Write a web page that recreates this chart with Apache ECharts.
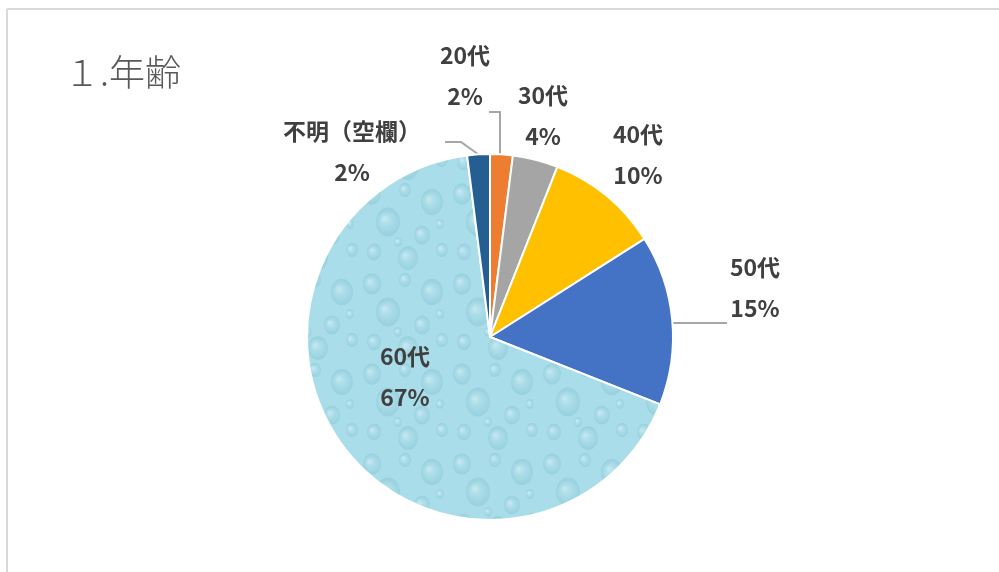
<!DOCTYPE html>
<html>
<head>
<meta charset="utf-8">
<script src="https://cdn.jsdelivr.net/npm/echarts@6/dist/echarts.min.js"></script>
<style>
html, body { margin: 0; padding: 0; background: #fff; }
#chart { width: 999px; height: 572px; }
</style>
</head>
<body>
<div id="chart"></div>
<script>
// 年齢区分と割合(%)
var categories = ['20代', '30代', '40代', '50代', '60代', '不明（空欄）'];
var values = [2, 4, 10, 15, 67, 2];
var colors = ['#ED7D31', '#A5A5A5', '#FFC000', '#4472C4', '#A9DDE9', '#255E91'];

// ラベル位置（中心）と引出線
var labelCenters = [[465, 76], [543, 116], [638, 155], [755, 288], [405, 377], [352, 152]];
var labelLines = [
	[[500, 155], [500, 112], [489, 112]],
	null,
	null,
	[[673, 323], [727, 323]],
	null,
	[[482, 157], [461, 142], [445, 142]]
];

// 水滴風テクスチャ
function makeDrops()
{
	var c = document.createElement('canvas');
	c.width = 90;
	c.height = 90;
	var g = c.getContext('2d');
	g.fillStyle = '#A9DDE9';
	g.fillRect(0, 0, 90, 90);
	var drops = [[12, 14, 9], [45, 10, 6], [72, 22, 11], [28, 42, 12], [62, 55, 8], [14, 72, 7], [48, 78, 10], [82, 70, 6], [38, 62, 4], [80, 44, 4]];
	drops.forEach(function(d)
	{
		var grd = g.createRadialGradient(d[0] - d[2] * 0.3, d[1] - d[2] * 0.3, 1, d[0], d[1], d[2]);
		grd.addColorStop(0, 'rgba(255,255,255,0.3)');
		grd.addColorStop(0.6, 'rgba(150,205,218,0.2)');
		grd.addColorStop(1, 'rgba(120,185,202,0.3)');
		g.fillStyle = grd;
		g.beginPath();
		g.ellipse(d[0], d[1], d[2], d[2] * 1.2, 0, 0, Math.PI * 2);
		g.fill();
	});
	return c;
}

var dataItems = categories.map(function(name, i)
{
	var item = { name: name, value: values[i], itemStyle: { color: colors[i] } };
	if (i === 4)
		item.itemStyle.color = { image: makeDrops(), repeat: 'repeat' };
	return item;
});

var chart = echarts.init(document.getElementById('chart'));

var options =
{
	animation: false,
	graphic:
	[
		{ type: 'line', shape: { x1: 7, y1: 9, x2: 999, y2: 9 }, style: { stroke: '#D9D9D9', lineWidth: 2 } },
		{ type: 'line', shape: { x1: 7, y1: 9, x2: 7, y2: 572 }, style: { stroke: '#D9D9D9', lineWidth: 2 } },
		{
			type: 'text', left: 64, top: 54,
			style: { text: '１.年齢', fill: '#595959', font: '300 36px "Noto Sans CJK JP"' }
		}
	],
	series:
	[
		{
			type: 'pie',
			center: [490, 337],
			radius: 183,
			startAngle: 90,
			clockwise: true,
			percentPrecision: 0,
			data: dataItems,
			itemStyle: { borderColor: '#fff', borderWidth: 2 },
			label:
			{
				show: true,
				position: 'outside',
				formatter: '{b}\n{d}%',
				color: '#404040',
				fontSize: 23,
				fontWeight: 'bold',
				fontFamily: '"Noto Sans CJK JP"',
				lineHeight: 41,
				align: 'center'
			},
			labelLine: { show: true, lineStyle: { color: '#A6A6A6', width: 2 } },
			labelLayout: function(p)
			{
				var c = labelCenters[p.dataIndex];
				return {
					x: c[0], y: c[1], align: 'center', verticalAlign: 'middle',
					labelLinePoints: labelLines[p.dataIndex] || [[0, 0], [0, 0]]
				};
			},
			emphasis: { disabled: true }
		}
	]
};

chart.setOption(options);
</script>
</body>
</html>
